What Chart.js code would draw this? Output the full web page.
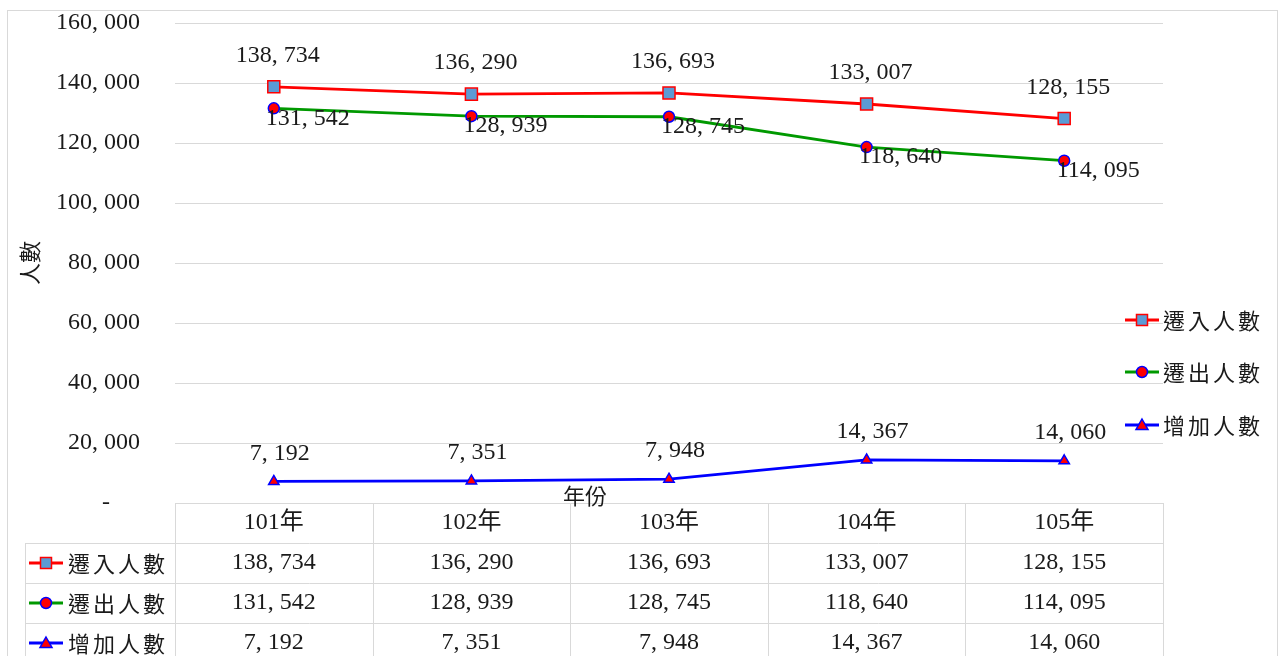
<!DOCTYPE html>
<html>
<head>
<meta charset="utf-8">
<script src="https://cdn.jsdelivr.net/npm/chart.js@4/dist/chart.umd.min.js"></script>
<style>
  html, body { margin: 0; padding: 0; background: #fff; }
  #wrap { position: relative; width: 1282px; height: 656px; }
</style>
</head>
<body>
<div id="wrap"><canvas id="migrationChart"></canvas></div>
<script>
const years = ['101年', '102年', '103年', '104年', '105年'];
const moveIn = [138734, 136290, 136693, 133007, 128155];
const moveOut = [131542, 128939, 128745, 118640, 114095];
const netGain = [7192, 7351, 7948, 14367, 14060];
const seriesNames = ['遷入人數', '遷出人數', '增加人數'];

const numFont = "24px 'Liberation Serif', 'Noto Sans CJK TC', serif";
const cjkFont = "22px 'Noto Sans CJK TC', serif";
const textColor = '#1a1a1a';
const gridColor = '#d9d9d9';

function fmt(v) {
    return v.toLocaleString('en-US').replace(/,/g, ', ');
}

// marker drawing used by legends
function drawMarker(ctx, kind, x, y) {
    ctx.save();
    ctx.lineWidth = 1.5;
    if (kind === 'rect') {
        ctx.fillStyle = '#5b9bd5';
        ctx.strokeStyle = '#ff0000';
        ctx.fillRect(x - 5.5, y - 5.5, 11, 11);
        ctx.strokeRect(x - 5.5, y - 5.5, 11, 11);
    } else if (kind === 'circle') {
        ctx.fillStyle = '#ff0000';
        ctx.strokeStyle = '#0000ff';
        ctx.beginPath();
        ctx.arc(x, y, 5.5, 0, Math.PI * 2);
        ctx.fill();
        ctx.stroke();
    } else {
        ctx.fillStyle = '#ff0000';
        ctx.strokeStyle = '#0000ff';
        ctx.beginPath();
        ctx.moveTo(x, y - 6);
        ctx.lineTo(x + 6, y + 4.5);
        ctx.lineTo(x - 6, y + 4.5);
        ctx.closePath();
        ctx.fill();
        ctx.stroke();
    }
    ctx.restore();
}

function legendKey(ctx, i, x, y) {
    const colors = ['#ff0000', '#009900', '#0000ff'];
    const kinds = ['rect', 'circle', 'triangle'];
    ctx.save();
    ctx.strokeStyle = colors[i];
    ctx.lineWidth = 2.8;
    ctx.beginPath();
    ctx.moveTo(x, y);
    ctx.lineTo(x + 34, y);
    ctx.stroke();
    ctx.restore();
    drawMarker(ctx, kinds[i], x + 17, y);
}

function spacedText(ctx, str, x, y, step) {
    for (let k = 0; k < str.length; k++) {
        ctx.fillText(str[k], x + k * step, y);
    }
}

const extrasPlugin = {
    id: 'extras',
    beforeDraw(chart) {
        const ctx = chart.ctx;
        ctx.save();
        ctx.fillStyle = '#fff';
        ctx.fillRect(0, 0, chart.width, chart.height);
        ctx.strokeStyle = gridColor;
        ctx.lineWidth = 1;
        ctx.strokeRect(7.5, 10.5, 1270, 700);
        ctx.restore();
    },
    afterDatasetsDraw(chart) {
        const ctx = chart.ctx;
        const area = chart.chartArea;
        const xs = chart.getDatasetMeta(0).data.map(p => p.x);

        // point labels
        ctx.save();
        ctx.font = numFont;
        ctx.fillStyle = textColor;
        ctx.textAlign = 'center';
        ctx.textBaseline = 'middle';
        chart.getDatasetMeta(0).data.forEach((p, i) => ctx.fillText(fmt(moveIn[i]), p.x + 4, p.y - 31));
        chart.getDatasetMeta(1).data.forEach((p, i) => ctx.fillText(fmt(moveOut[i]), p.x + 34, p.y + 10));
        chart.getDatasetMeta(2).data.forEach((p, i) => ctx.fillText(fmt(netGain[i]), p.x + 6, p.y - 28));
        ctx.restore();

        // data table
        const top = area.bottom;
        const rowH = 40;
        const colW = (area.right - area.left) / years.length;
        ctx.save();
        ctx.strokeStyle = gridColor;
        ctx.lineWidth = 1;
        ctx.beginPath();
        ctx.moveTo(area.left, top + 0.5);
        ctx.lineTo(area.right, top + 0.5);
        for (let r = 1; r <= 3; r++) {
            ctx.moveTo(25, top + r * rowH + 0.5);
            ctx.lineTo(area.right, top + r * rowH + 0.5);
        }
        for (let c = 0; c <= years.length; c++) {
            const x = Math.round(area.left + c * colW) + 0.5;
            ctx.moveTo(x, top);
            ctx.lineTo(x, top + 4 * rowH);
        }
        ctx.moveTo(25.5, top + rowH);
        ctx.lineTo(25.5, top + 4 * rowH);
        ctx.stroke();

        ctx.fillStyle = textColor;
        ctx.textAlign = 'center';
        ctx.textBaseline = 'middle';
        ctx.font = numFont;
        const rows = [moveIn, moveOut, netGain];
        years.forEach((yr, c) => {
            ctx.fillText(yr, xs[c], top + rowH / 2);
            rows.forEach((vals, r) => ctx.fillText(fmt(vals[c]), xs[c], top + (r + 1.5) * rowH));
        });

        // table row keys
        ctx.textAlign = 'left';
        ctx.font = cjkFont;
        seriesNames.forEach((name, r) => {
            const y = top + (r + 1.5) * rowH;
            legendKey(ctx, r, 29, y);
            ctx.fillStyle = textColor;
            spacedText(ctx, name, 68, y + 1, 25);
        });

        // right legend
        [320, 372, 425].forEach((y, r) => {
            legendKey(ctx, r, 1125, y);
            ctx.fillStyle = textColor;
            ctx.font = cjkFont;
            spacedText(ctx, seriesNames[r], 1163, y + 1, 25);
        });

        // axis titles
        ctx.font = cjkFont;
        ctx.fillStyle = textColor;
        ctx.textAlign = 'center';
        ctx.fillText('年份', 585, 496);
        ctx.translate(30, 263);
        ctx.rotate(-Math.PI / 2);
        ctx.fillText('人數', 0, 0);
        ctx.restore();
    }
};

const ctx = document.getElementById('migrationChart').getContext('2d');
new Chart(ctx, {
    type: 'line',
    data: {
        labels: years,
        datasets: [{
            label: seriesNames[0],
            data: moveIn,
            borderColor: '#ff0000',
            borderWidth: 2.8,
            pointStyle: 'rect',
            pointRadius: 8.5,
            pointBackgroundColor: '#5b9bd5',
            pointBorderColor: '#ff0000',
            pointBorderWidth: 1.5
        }, {
            label: seriesNames[1],
            data: moveOut,
            borderColor: '#009900',
            borderWidth: 2.8,
            pointStyle: 'circle',
            pointRadius: 5.5,
            pointBackgroundColor: '#ff0000',
            pointBorderColor: '#0000ff',
            pointBorderWidth: 1.5
        }, {
            label: seriesNames[2],
            data: netGain,
            borderColor: '#0000ff',
            borderWidth: 2.8,
            pointStyle: 'triangle',
            pointRadius: 6,
            pointBackgroundColor: '#ff0000',
            pointBorderColor: '#0000ff',
            pointBorderWidth: 1.5
        }]
    },
    options: {
        responsive: true,
        maintainAspectRatio: false,
        animation: false,
        layout: { padding: { top: 23, bottom: 153, right: 119, left: 0 } },
        scales: {
            x: { display: false, offset: true },
            y: {
                min: 0,
                max: 160000,
                afterFit: s => { s.width = 175; s.paddingTop = 0; s.paddingBottom = 0; },
                grid: { color: gridColor, drawTicks: false },
                border: { display: false },
                ticks: {
                    stepSize: 20000,
                    padding: 35,
                    color: textColor,
                    font: { family: "'Liberation Serif', serif", size: 24 },
                    callback: v => v === 0 ? '-     ' : fmt(v)
                }
            }
        },
        plugins: {
            legend: { display: false },
            tooltip: { enabled: false }
        }
    },
    plugins: [extrasPlugin]
});
</script>
</body>
</html>
